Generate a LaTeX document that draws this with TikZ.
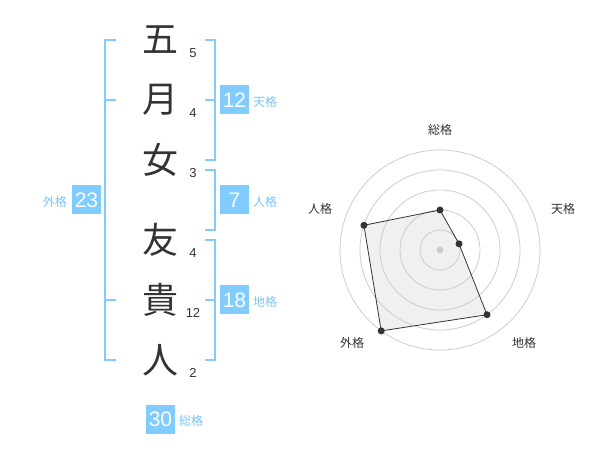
\documentclass[tikz,border=0pt]{standalone}
\usepackage{fontspec}
\newfontfamily\cjk{Noto Sans CJK JP}
\newfontfamily\numf{Liberation Sans}
\usetikzlibrary{calc}
\definecolor{boxblue}{RGB}{128,204,255}
\definecolor{lblblue}{RGB}{120,196,245}
\definecolor{txtgray}{RGB}{51,51,51}
\definecolor{ringgray}{RGB}{204,204,204}
\definecolor{fillgray}{RGB}{240,240,240}
\begin{document}
\begin{tikzpicture}[x=1pt,y=-1pt,
  kanji/.style={font=\cjk\fontsize{36}{36}\selectfont, text=txtgray, inner sep=0pt},
  strokes/.style={font=\numf\fontsize{13}{13}\selectfont, text=txtgray, inner sep=0pt},
  bracket/.style={draw=boxblue, line width=2pt},
  numbox/.style={fill=boxblue, text=white, font=\numf\fontsize{21}{21}\selectfont, minimum width=29pt, minimum height=29pt, inner sep=0pt},
  lbl/.style={font=\cjk\fontsize{12}{12}\selectfont, text=lblblue, inner sep=0pt},
  ring/.style={draw=ringgray, line width=0.8pt},
  radlbl/.style={font=\cjk\fontsize{12}{12}\selectfont, text=txtgray, inner sep=0pt},
  pt/.style={circle, fill=txtgray, inner sep=0pt, minimum size=7pt}
]
\useasboundingbox (0,0) rectangle (600,470);
% characters
\node[kanji] (c1) at (160,40) {五};
\node[kanji] (c2) at (160,100) {月};
\node[kanji] (c3) at (160,160) {女};
\node[kanji] (c4) at (160,240) {友};
\node[kanji] (c5) at (160,300) {貴};
\node[kanji] (c6) at (160,360) {人};
\node[strokes] (s1) at (193,53) {5};
\node[strokes] (s2) at (193,113) {4};
\node[strokes] (s3) at (193,173) {3};
\node[strokes] (s4) at (193,253) {4};
\node[strokes] (s5) at (193,313) {12};
\node[strokes] (s6) at (193,373) {2};
% left bracket (外格)
\draw[bracket] (116,40) -- (105,40) -- (105,360) -- (116,360);
\draw[bracket] (105,100) -- (116,100);
\draw[bracket] (105,300) -- (116,300);
% right brackets
\draw[bracket] (205,40) -- (215,40) -- (215,160) -- (205,160);
\draw[bracket] (215,100) -- (205,100);
\draw[bracket] (205,170) -- (215,170) -- (215,230) -- (205,230);
\draw[bracket] (205,240) -- (215,240) -- (215,360) -- (205,360);
\draw[bracket] (215,300) -- (205,300);
% boxes
\node[numbox] (b12) at (234.5,100) {12};
\node[lbl, anchor=west] (l12) at (253,102) {天格};
\node[numbox] (b7) at (234.5,200) {7};
\node[lbl, anchor=west] (l7) at (253,202) {人格};
\node[numbox] (b18) at (234.5,300) {18};
\node[lbl, anchor=west] (l18) at (253,302) {地格};
\node[numbox] (b23) at (86.5,200) {23};
\node[lbl, anchor=east] (l23) at (67,202) {外格};
\node[numbox] (b30) at (160.5,419) {30};
\node[lbl, anchor=west] (l30) at (179,421) {総格};
% radar
\coordinate (ctr) at (440,250);
\coordinate (pA) at ($(ctr)+(0,-40)$);
\coordinate (pB) at ($(ctr)+({20*cos(18)},{-20*sin(18)})$);
\coordinate (pC) at ($(ctr)+({80*cos(54)},{80*sin(54)})$);
\coordinate (pD) at ($(ctr)+({-100*cos(54)},{100*sin(54)})$);
\coordinate (pE) at ($(ctr)+({-80*cos(18)},{-80*sin(18)})$);
\fill[fillgray] (pA) -- (pB) -- (pC) -- (pD) -- (pE) -- cycle;
\foreach \r in {20,40,60,80,100} \draw[ring] (ctr) circle[radius=\r];
\fill[ringgray] (ctr) circle[radius=3.5];
\draw[draw=txtgray, line width=0.8pt] (pA) -- (pB) -- (pC) -- (pD) -- (pE) -- cycle;
\foreach \p in {pA,pB,pC,pD,pE} \node[pt] at (\p) {};
\node[radlbl] (r1) at (440,130) {総格};
\node[radlbl] (r2) at (563,209) {天格};
\node[radlbl] (r3) at (524,343) {地格};
\node[radlbl] (r4) at (352,343) {外格};
\node[radlbl] (r5) at (320,209) {人格};
\end{tikzpicture}
\end{document}
